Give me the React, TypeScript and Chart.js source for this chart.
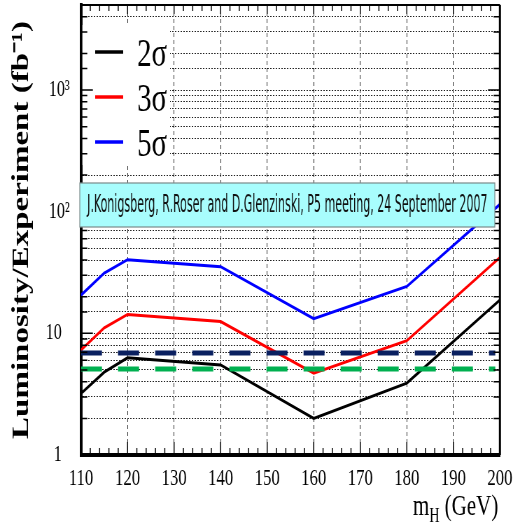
import React, { useEffect, useRef } from 'react';
import { Chart, registerables } from 'chart.js';

Chart.register(...registerables);

// ---- data ----
const massGeV = [110, 115, 120, 140, 160, 180, 200];
const lumi2Sigma = [3.2, 4.8, 6.3, 5.5, 2.0, 3.9, 18.8];
const lumi3Sigma = [7.3, 11.1, 14.3, 12.5, 4.7, 8.7, 42];
const lumi5Sigma = [20.6, 31.3, 40.3, 35.3, 13.2, 24.3, 115];
const seriesLabels = ['2σ', '3σ', '5σ'];
const seriesColors = ['#000000', '#ff0000', '#0000ff'];
const levelMass = [110, 199];
const levelNavy = 6.9;
const levelGreen = 5.1;
const yTickLabels: Record<number, string> = { 1: '1\u2007', 10: '10\u2007', 100: '10²', 1000: '10³' };
const yTitle = 'Luminosity/Experiment (fb⁻¹)';
const xTitleMain = 'm';
const xTitleSub = 'H';
const xTitleRest = ' (GeV)';
const bannerText = 'J.Konigsberg, R.Roser and D.Glenzinski, P5 meeting, 24 September 2007';

// ---- canvas geometry (drawn wide, displayed compressed like the original) ----
const CW = 733;
const CH = 527;
const DISPLAY_W = 513;
const PLOT_LEFT = 115.7;
const PLOT_RIGHT = 714.3;
const PLOT_TOP = 5;
const PLOT_BOTTOM = 455;
const SERIF = '"Liberation Serif", "Times New Roman", serif';

const decorPlugin = {
  id: 'decor',
  beforeDatasetsDraw(chart: any) {
    const { ctx, chartArea } = chart;
    ctx.save();
    // legend box
    ctx.fillStyle = '#ffffff';
    ctx.fillRect(chartArea.left + 2, 25, 243 - chartArea.left - 2, 140);
    for (let i = 0; i < 3; i++) {
      const ds = chart.data.datasets[i];
      const ly = 52 + i * 45;
      ctx.strokeStyle = ds.borderColor;
      ctx.lineWidth = 3.5;
      ctx.beginPath();
      ctx.moveTo(136, ly);
      ctx.lineTo(176, ly);
      ctx.stroke();
      ctx.fillStyle = '#000';
      ctx.font = `41px ${SERIF}`;
      ctx.textAlign = 'left';
      ctx.textBaseline = 'alphabetic';
      ctx.fillText(ds.label, 196, ly + 14);
    }
    ctx.restore();
  },
  afterDatasetsDraw(chart: any) {
    const { ctx, chartArea, scales } = chart;
    const xs = scales.x;
    const ys = scales.y;
    ctx.save();
    ctx.strokeStyle = '#000';
    // top & right frame
    ctx.lineWidth = 2;
    ctx.beginPath();
    ctx.moveTo(chartArea.left, chartArea.top);
    ctx.lineTo(chartArea.right, chartArea.top);
    ctx.stroke();
    ctx.lineWidth = 3;
    ctx.beginPath();
    ctx.moveTo(chartArea.right, chartArea.top);
    ctx.lineTo(chartArea.right, chartArea.bottom);
    ctx.stroke();
    // x tick marks (inside, bottom & top)
    ctx.lineWidth = 1.5;
    for (let v = 110; v <= 200; v += 2) {
      const px = xs.getPixelForValue(v);
      const major = v % 10 === 0;
      ctx.beginPath();
      ctx.moveTo(px, chartArea.bottom);
      ctx.lineTo(px, chartArea.bottom - (major ? 13 : 7));
      ctx.moveTo(px, chartArea.top);
      ctx.lineTo(px, chartArea.top + (major ? 9 : 6));
      ctx.stroke();
    }
    // y tick marks (inside, left & right)
    ys.ticks.forEach((t: any) => {
      const py = ys.getPixelForValue(t.value);
      const major = yTickLabels[t.value] !== undefined;
      const len = major ? 17 : 9;
      ctx.beginPath();
      ctx.moveTo(chartArea.left, py);
      ctx.lineTo(chartArea.left + len, py);
      ctx.moveTo(chartArea.right, py);
      ctx.lineTo(chartArea.right - len, py);
      ctx.stroke();
    });
    // banner
    const bx = 114, by = 183, bw = 707 - 114, bh = 44;
    ctx.fillStyle = '#a8fdfd';
    ctx.fillRect(bx, by, bw, bh);
    ctx.strokeStyle = '#7a8a8a';
    ctx.lineWidth = 1.2;
    ctx.strokeRect(bx, by, bw, bh);
    ctx.fillStyle = '#111';
    ctx.font = `24px "DejaVu Sans Condensed", "DejaVu Sans", sans-serif`;
    ctx.textAlign = 'center';
    ctx.textBaseline = 'middle';
    ctx.fillText(bannerText, bx + bw / 2, by + bh / 2 + 1, 572);
    // x title with subscript
    ctx.fillStyle = '#000';
    ctx.textAlign = 'left';
    ctx.textBaseline = 'alphabetic';
    ctx.font = `30px ${SERIF}`;
    const wM = ctx.measureText(xTitleMain).width;
    const wRest = ctx.measureText(xTitleRest).width;
    ctx.font = `20px ${SERIF}`;
    const wSub = ctx.measureText(xTitleSub).width;
    const x0 = 712 - (wM + wSub + wRest);
    ctx.font = `30px ${SERIF}`;
    ctx.fillText(xTitleMain, x0, 515);
    ctx.fillText(xTitleRest, x0 + wM + wSub, 515);
    ctx.font = `20px ${SERIF}`;
    ctx.fillText(xTitleSub, x0 + wM, 522);
    ctx.restore();
  },
};

function makeSeries(values: number[]) {
  return massGeV.map((m, i) => ({ x: m, y: values[i] }));
}

export default function App() {
  const ref = useRef<HTMLCanvasElement | null>(null);

  useEffect(() => {
    if (!ref.current) return;
    const seriesValues = [lumi2Sigma, lumi3Sigma, lumi5Sigma];
    const datasets: any[] = seriesValues.map((vals, i) => ({
      label: seriesLabels[i],
      data: makeSeries(vals),
      borderColor: seriesColors[i],
      backgroundColor: seriesColors[i],
      borderWidth: 3,
      pointRadius: 0,
      tension: 0,
      fill: false,
      order: 2,
    }));
    datasets.push({
      label: '',
      data: levelMass.map((x) => ({ x, y: levelNavy })),
      borderColor: '#0a2060',
      borderWidth: 5,
      borderDash: [30, 23],
      pointRadius: 0,
      fill: false,
      order: 1,
    });
    datasets.push({
      label: '',
      data: levelMass.map((x) => ({ x, y: levelGreen })),
      borderColor: '#00b050',
      borderWidth: 5,
      borderDash: [30, 23],
      pointRadius: 0,
      fill: false,
      order: 1,
    });

    const chart = new Chart(ref.current, {
      type: 'line',
      data: { datasets },
      plugins: [decorPlugin],
      options: {
        animation: false,
        responsive: false,
        devicePixelRatio: 1,
        events: [],
        layout: { padding: { left: 0, right: CW - PLOT_RIGHT, top: PLOT_TOP, bottom: 0 } },
        plugins: {
          legend: { display: false },
          tooltip: { enabled: false },
        },
        scales: {
          x: {
            type: 'linear',
            min: 110,
            max: 200,
            ticks: {
              stepSize: 10,
              autoSkip: false,
              maxRotation: 0,
              color: '#000',
              padding: 9,
              font: { family: SERIF, size: 24 },
            },
            grid: { color: '#222', lineWidth: 1, drawTicks: false },
            border: { display: true, color: '#000', width: 4, dash: [4, 3] },
            afterFit(s: any) {
              s.height = CH - PLOT_BOTTOM;
              s.paddingLeft = 0;
              s.paddingRight = 0;
            },
          },
          y: {
            type: 'logarithmic',
            min: 1,
            max: 5000,
            ticks: {
              autoSkip: false,
              color: '#000',
              padding: 16,
              font: { family: SERIF, size: 23 },
              callback: (v: any) => yTickLabels[Number(v)] ?? '',
            },
            grid: { color: '#222', lineWidth: 1, drawTicks: false },
            border: { display: true, color: '#000', width: 4, dash: [2, 2] },
            title: {
              display: true,
              text: yTitle,
              color: '#000',
              font: { family: SERIF, size: 33, weight: 'bold' },
              padding: { top: 12, bottom: 0 },
            },
            afterFit(s: any) {
              s.width = PLOT_LEFT;
              s.paddingTop = 0;
              s.paddingBottom = 0;
            },
          },
        },
      } as any,
    });
    return () => chart.destroy();
  }, []);

  return (
    <div style={{ position: 'absolute', left: 0, top: 0, width: DISPLAY_W, height: CH, background: '#fff' }}>
      <canvas
        ref={ref}
        width={CW}
        height={CH}
        style={{ width: `${DISPLAY_W}px`, height: `${CH}px`, display: 'block' }}
      />
    </div>
  );
}
